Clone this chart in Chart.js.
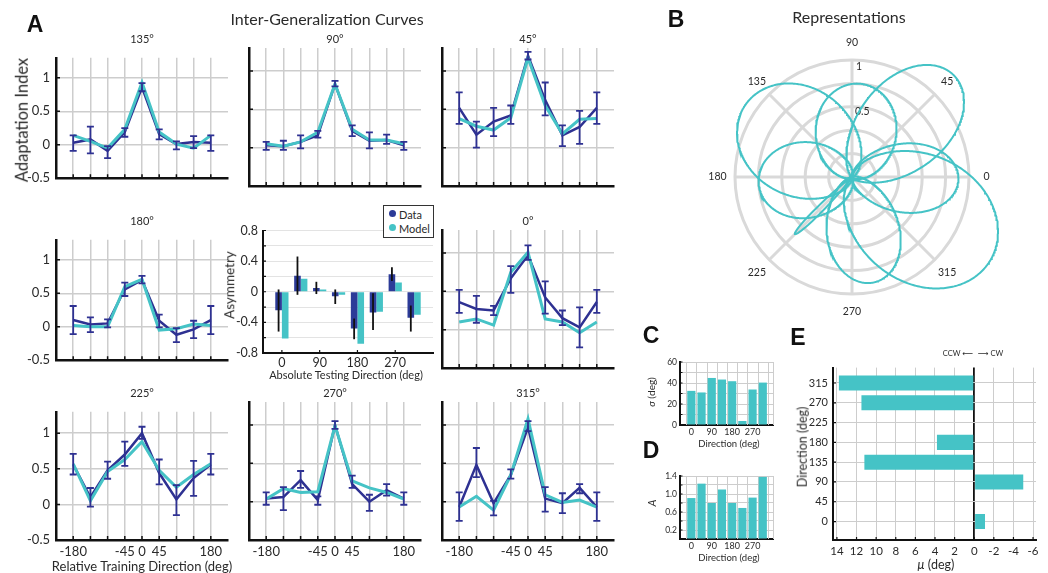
<!DOCTYPE html>
<html><head><meta charset="utf-8">
<script src="https://cdn.jsdelivr.net/npm/chart.js@4.4.1/dist/chart.umd.min.js"></script>
<style>
html,body{margin:0;padding:0;background:#fff}
body{width:1048px;height:573px;position:relative;overflow:hidden;font-family:Lato,'Open Sans',sans-serif;color:#2a2a2a}
.t{position:absolute;white-space:nowrap;line-height:1;pointer-events:none}
.L{font-family:'Liberation Sans',Arial,sans-serif;font-weight:bold;color:#111}
</style></head><body>
<script>
// ---------- DATA ----------
const relDirs = [-180,-135,-90,-45,0,45,90,135,180];
const xShown = [-180,-45,0,45,180];
const yTicksLine = [-0.5,0,0.5,1];

const d135 = [0.03,0.08,-0.09,0.19,0.86,0.16,0.01,0.04,0.03];
const lo135 = [-0.09,-0.13,-0.20,0.12,0.80,0.08,-0.07,-0.05,-0.09];
const hi135 = [0.14,0.27,-0.02,0.25,0.92,0.23,0.05,0.13,0.14];
const m135 = [0.14,0.05,-0.05,0.23,0.93,0.19,0.01,-0.05,0.14];

const d90 = [0.03,0.02,0.075,0.16,0.83,0.22,0.09,0.10,0.03];
const lo90 = [-0.03,-0.03,-0.01,0.13,0.80,0.15,-0.01,0.05,-0.03];
const hi90 = [0.075,0.09,0.16,0.22,0.87,0.29,0.20,0.17,0.075];
const m90 = [0.05,0.02,0.075,0.20,0.83,0.24,0.10,0.10,0.05];

const d45 = [0.52,0.17,0.34,0.42,1.20,0.62,0.16,0.27,0.52];
const lo45 = [0.31,0.00,0.15,0.31,1.15,0.42,0.02,0.05,0.31];
const hi45 = [0.72,0.34,0.52,0.55,1.25,0.85,0.29,0.48,0.72];
const m45 = [0.38,0.28,0.23,0.39,1.17,0.55,0.18,0.37,0.38];

const d180 = [0.10,0.035,0.05,0.56,0.70,0.09,-0.12,-0.04,0.10];
const lo180 = [-0.11,-0.08,-0.01,0.46,0.65,-0.01,-0.23,-0.17,-0.11];
const hi180 = [0.31,0.14,0.11,0.66,0.76,0.18,-0.02,0.09,0.31];
const m180 = [0.02,0.0,0.0,0.60,0.71,-0.05,-0.03,0.04,0.02];

const d0 = [0.36,0.27,0.25,0.67,0.97,0.42,0.15,0.03,0.36];
const lo0 = [0.22,0.09,0.19,0.48,0.91,0.21,0.06,-0.23,0.22];
const hi0 = [0.52,0.44,0.31,0.83,1.10,0.63,0.25,0.29,0.52];
const m0 = [0.10,0.14,0.06,0.75,1.01,0.14,0.10,-0.04,0.10];

const d225 = [0.56,0.10,0.48,0.70,1.00,0.44,0.07,0.37,0.56];
const lo225 = [0.42,-0.03,0.36,0.54,0.92,0.28,-0.15,0.12,0.42];
const hi225 = [0.71,0.23,0.60,0.88,1.09,0.63,0.27,0.61,0.71];
const m225 = [0.57,0.05,0.46,0.63,0.88,0.48,0.24,0.42,0.57];

const d270 = [0.04,0.06,0.28,0.02,1.00,0.23,0.00,0.15,0.04];
const lo270 = [-0.04,-0.11,0.18,-0.04,0.95,0.18,-0.12,0.08,-0.04];
const hi270 = [0.12,0.19,0.40,0.07,1.05,0.34,0.09,0.23,0.12];
const m270 = [0.035,0.17,0.12,0.13,0.99,0.27,0.18,0.12,0.035];

const d315 = [-0.07,0.48,-0.02,0.35,0.97,0.04,-0.02,0.18,-0.07];
const lo315 = [-0.25,0.32,-0.18,0.30,0.92,-0.13,-0.15,0.11,-0.25];
const hi315 = [0.12,0.70,0.01,0.42,1.05,0.19,0.11,0.23,0.12];
const m315 = [-0.07,0.07,-0.11,0.35,1.08,0.09,-0.01,0.02,-0.07];

const absDirs = [0,45,90,135,180,225,270,315];
const absLabels = [0,90,180,270];
const asymData = [-0.24,0.21,0.05,-0.06,-0.48,-0.27,0.23,-0.34];
const asymLo = [-0.52,-0.04,-0.03,-0.16,-0.62,-0.50,0.14,-0.52];
const asymHi = [0.03,0.46,0.13,0.03,-0.35,-0.02,0.32,-0.18];
const asymModel = [-0.61,0.17,0.03,-0.04,-0.68,-0.26,0.12,-0.30];
const asymTicks = [-0.8,-0.6,-0.4,-0.2,0,0.2,0.4,0.6,0.8];

const sigma = [32.5,31,44.8,43.3,41.7,3.8,33.8,40.4];
const amp = [0.91,1.23,0.80,1.10,0.80,0.69,0.92,1.38];
const mu = [-1.1,0,-5.0,11.2,3.8,0,11.5,13.8];

const sigmaTicks = [0,10,20,30,40,50,60];
const sigmaLabelVals = [0,20,40,60];
const sigmaLabels = ['0','20','40','60'];
const ampTicks = [0,0.2,0.4,0.6,0.8,1.0,1.2,1.4];
const ampLabelVals = [0.2,0.6,1.0,1.4];
const ampLabels = ['0.2','0.6','1.0','1.4'];
const muTicks = [14,12,10,8,6,4,2,0,-2,-4,-6];
const barBounds = [-22.5,22.5,67.5,112.5,157.5,202.5,247.5,292.5,337.5,360];
const polarRings = [0.2,0.4,0.6,0.8,1.0];

// ---------- STYLE ----------
const NAVY = '#2e3192', CYAN = '#45c3c6', DBAR = '#2c3b98', GRID = '#cdcdcd', GRID2 = '#d9d9d9';
Chart.defaults.font.family = "Lato, 'Open Sans', sans-serif";
Chart.defaults.color = '#2a2a2a';
Chart.defaults.animation = false;
Chart.defaults.responsive = false;
Chart.defaults.devicePixelRatio = 1;
Chart.defaults.plugins.legend.display = false;
Chart.defaults.plugins.tooltip.enabled = false;

function mkCanvas(x, y, w, h, p){
  const cv = document.createElement('canvas');
  const W = w + p.l + p.r, H = h + p.t + p.b;
  cv.width = W; cv.height = H;
  cv.style.cssText = `position:absolute;left:${x-p.l}px;top:${y-p.t}px;width:${W}px;height:${H}px`;
  document.body.appendChild(cv);
  return cv.getContext('2d');
}
function label(text, cx, cy, size, rot, cls, css){
  const d = document.createElement('div');
  d.className = 't' + (cls ? ' ' + cls : '');
  d.innerHTML = text;
  d.style.left = cx + 'px'; d.style.top = cy + 'px'; d.style.fontSize = size + 'px';
  d.style.transform = 'translate(-50%,-50%)' + (rot ? ` rotate(${rot}deg)` : '');
  if (css) d.style.cssText += css;
  document.body.appendChild(d);
}

const errBars = {
  id: 'errBars',
  afterDatasetsDraw(chart){
    const ctx = chart.ctx, ys = chart.scales.y;
    chart.data.datasets.forEach((ds, di) => {
      if (!ds.errLo) return;
      const meta = chart.getDatasetMeta(di);
      ctx.save(); ctx.strokeStyle = ds.errColor; ctx.lineWidth = ds.errWidth;
      meta.data.forEach((el, i) => {
        const x = el.x, y1 = ys.getPixelForValue(ds.errLo[i]), y2 = ys.getPixelForValue(ds.errHi[i]);
        const c = ds.errCap || 0;
        ctx.beginPath(); ctx.moveTo(x, y1); ctx.lineTo(x, y2);
        if (c) { ctx.moveTo(x-c, y1); ctx.lineTo(x+c, y1); ctx.moveTo(x-c, y2); ctx.lineTo(x+c, y2); }
        ctx.stroke();
      });
      ctx.restore();
    });
  }
};
const inTicks = {
  id: 'inTicks',
  afterDraw(chart, args, o){
    const {ctx, chartArea: a, scales: {x, y}} = chart;
    ctx.save(); ctx.strokeStyle = '#111'; ctx.lineWidth = o.w || 1.5;
    ctx.beginPath();
    (o.x || []).forEach(v => { const px = x.getPixelForValue(v); ctx.moveTo(px, a.bottom); ctx.lineTo(px, a.bottom - o.len); });
    (o.y || []).forEach(v => { const py = y.getPixelForValue(v); ctx.moveTo(a.left, py); ctx.lineTo(a.left + o.len, py); });
    ctx.stroke(); ctx.restore();
  }
};
const vGrid = {
  id: 'vGrid',
  beforeDatasetsDraw(chart, args, o){
    const {ctx, chartArea: a, scales: {x}} = chart;
    ctx.save(); ctx.strokeStyle = GRID; ctx.lineWidth = 1;
    ctx.beginPath();
    (o.values || []).forEach(v => { const px = Math.round(x.getPixelForValue(v)) + 0.5; ctx.moveTo(px, a.top); ctx.lineTo(px, a.bottom); });
    ctx.stroke(); ctx.restore();
  }
};
// y tick labels drawn through the y scale (for the small C/D panels)
const yLabels = {
  id: 'yLabels',
  afterDraw(chart, args, o){
    const {ctx, chartArea: a, scales: {y}} = chart;
    ctx.save(); ctx.fillStyle = '#2a2a2a'; ctx.font = `${o.size}px Lato`; ctx.textAlign = 'right'; ctx.textBaseline = 'middle';
    o.values.forEach((v, i) => ctx.fillText(o.labels[i], a.left - 3, y.getPixelForValue(v)));
    ctx.restore();
  }
};

// ---------- LINE PANELS (A) ----------
function linePanel(title, d, lo, hi, m, col, row){
  const X = [56,249,442][col], Y = [48,230,402][row], W = 172, H = 138;
  const showY = col === 0, showX = row === 2;
  const p = {l: showY ? 40 : 6, t: 4, r: 6, b: showX ? 20 : 6};
  const ctx = mkCanvas(X, Y, W, H, p);
  new Chart(ctx, {
    type: 'line',
    data: {datasets: [
      {label: 'Model', data: relDirs.map((v,i) => ({x: v, y: m[i]})), borderColor: CYAN, borderWidth: 3, pointRadius: 0, order: 0},
      {label: 'Data', data: relDirs.map((v,i) => ({x: v, y: d[i]})), borderColor: NAVY, borderWidth: 2.5, pointRadius: 0, order: 1,
       errLo: lo, errHi: hi, errColor: NAVY, errWidth: 1.8, errCap: 3.5}
    ]},
    options: {
      layout: {padding: {left: 0, top: p.t, right: p.r, bottom: 0}},
      scales: {
        x: {type: 'linear', min: -225, max: 225,
            afterBuildTicks: s => { s.ticks = relDirs.map(v => ({value: v})); },
            afterFit: s => { s.height = p.b; },
            grid: {color: GRID, lineWidth: 1.5, drawTicks: false},
            border: {color: '#111', width: 2.5},
            ticks: {display: showX, autoSkip: false, maxRotation: 0, padding: 4, font: {size: 13}, color: '#2a2a2a',
                    callback: v => xShown.includes(v) ? String(v) : ''}},
        y: {type: 'linear', min: -0.5, max: 1.3,
            afterBuildTicks: s => { s.ticks = yTicksLine.map(v => ({value: v})); },
            afterFit: s => { s.width = p.l; },
            grid: {color: c => (c.tick && c.tick.value === -0.5) ? 'rgba(0,0,0,0)' : GRID, lineWidth: 1.5, drawTicks: false},
            border: {color: '#111', width: 2.5},
            ticks: {display: showY, autoSkip: false, padding: 6, font: {size: 13}, color: '#2a2a2a', callback: v => String(v)}}
      },
      plugins: {inTicks: {x: relDirs, y: yTicksLine, len: 4}}
    },
    plugins: [errBars, inTicks]
  });
  label(title, X + W/2, Y - 10, 11);
}
linePanel('135°', d135, lo135, hi135, m135, 0, 0);
linePanel('90°', d90, lo90, hi90, m90, 1, 0);
linePanel('45°', d45, lo45, hi45, m45, 2, 0);
linePanel('180°', d180, lo180, hi180, m180, 0, 1);
linePanel('0°', d0, lo0, hi0, m0, 2, 1);
linePanel('225°', d225, lo225, hi225, m225, 0, 2);
linePanel('270°', d270, lo270, hi270, m270, 1, 2);
linePanel('315°', d315, lo315, hi315, m315, 2, 2);

// ---------- ASYMMETRY BARS ----------
{
  const X = 263, Y = 222, W = 170, H = 131, p = {l: 40, t: 4, r: 4, b: 15};
  const ctx = mkCanvas(X, Y, W, H, p);
  new Chart(ctx, {
    type: 'bar',
    data: {datasets: [
      {label: 'Data', data: absDirs.map((v,i) => ({x: v, y: asymData[i]})), backgroundColor: DBAR,
       categoryPercentage: 0.7, barPercentage: 1, errLo: asymLo, errHi: asymHi, errColor: '#111', errWidth: 1.8},
      {label: 'Model', data: absDirs.map((v,i) => ({x: v, y: asymModel[i]})), backgroundColor: CYAN,
       categoryPercentage: 0.7, barPercentage: 1}
    ]},
    options: {
      layout: {padding: {left: 0, top: p.t, right: p.r, bottom: 0}},
      scales: {
        x: {type: 'linear', min: -45, max: 360, offset: false,
            afterBuildTicks: s => { s.ticks = absLabels.map(v => ({value: v})); },
            afterFit: s => { s.height = p.b; },
            grid: {color: 'rgba(0,0,0,0)', drawTicks: false, offset: false},
            border: {color: '#111', width: 2},
            ticks: {autoSkip: false, maxRotation: 0, padding: 2, font: {size: 12.5}, callback: v => String(v)}},
        y: {type: 'linear', min: -0.8, max: 0.8,
            afterBuildTicks: s => { s.ticks = asymTicks.map(v => ({value: v})); },
            afterFit: s => { s.width = p.l; },
            grid: {color: '#e3e3e3', lineWidth: 1, drawTicks: false},
            border: {color: '#111', width: 2},
            ticks: {autoSkip: false, padding: 5, font: {size: 12.5}, callback: v => (Math.round(v*10) % 4 === 0) ? String(Math.round(v*10)/10) : ''}}
      },
      plugins: {inTicks: {x: absLabels, y: asymTicks, len: 3, w: 1.2}}
    },
    plugins: [errBars, inTicks]
  });
}
label('Asymmetry', 230, 285, 13.5, -90);
label('Absolute Testing Direction (deg)', 346, 374, 11);
{
  const box = document.createElement('div');
  box.style.cssText = 'position:absolute;left:383px;top:205px;width:49px;height:31px;border:1px solid #333;background:#fff;font-size:11px;line-height:1';
  box.innerHTML =
    `<div style="position:absolute;left:5px;top:4px;width:7px;height:7px;border-radius:50%;background:${DBAR}"></div><div style="position:absolute;left:15px;top:3px">Data</div>` +
    `<div style="position:absolute;left:5px;top:18px;width:7px;height:7px;border-radius:50%;background:${CYAN}"></div><div style="position:absolute;left:15px;top:17px">Model</div>`;
  document.body.appendChild(box);
}

// ---------- POLAR (B) ----------
{
  const U = 117, S = 340, R = (S/2)/U;
  const ctx = mkCanvas(852 - S/2, 177 - S/2, S, S, {l: 0, t: 0, r: 0, b: 0});
  const polarGrid = {
    id: 'polarGrid',
    beforeDatasetsDraw(chart){
      const {ctx, scales: {x, y}} = chart;
      const cx = x.getPixelForValue(0), cy = y.getPixelForValue(0), u = x.getPixelForValue(1) - cx;
      ctx.save(); ctx.strokeStyle = GRID2; ctx.lineWidth = 3;
      polarRings.forEach(r => { ctx.beginPath(); ctx.arc(cx, cy, r*u, 0, 2*Math.PI); ctx.stroke(); });
      absDirs.forEach(a => { const t = a*Math.PI/180; ctx.beginPath(); ctx.moveTo(cx, cy); ctx.lineTo(cx + u*Math.cos(t), cy - u*Math.sin(t)); ctx.stroke(); });
      ctx.fillStyle = '#2a2a2a'; ctx.font = "10.5px Lato"; ctx.textAlign = 'center'; ctx.textBaseline = 'middle';
      absDirs.forEach(a => { const t = a*Math.PI/180; ctx.fillText(String(a), cx + 1.15*u*Math.cos(t), cy - 1.15*u*Math.sin(t)); });
      ctx.textAlign = 'left';
      ctx.fillText('1', cx + 4, cy - 0.94*u);
      ctx.fillText('0.5', cx + 3, cy - 0.555*u);
      ctx.restore();
    }
  };
  const lobes = absDirs.map((dir, i) => {
    const pts = [];
    for (let t = 0; t <= 360; t += 0.5) {
      const dd = ((t - (dir + mu[i])) % 360 + 540) % 360 - 180;
      const r = amp[i] * Math.exp(-dd*dd / (2*sigma[i]*sigma[i]));
      pts.push({x: r*Math.cos(t*Math.PI/180), y: r*Math.sin(t*Math.PI/180)});
    }
    return {label: 'dir ' + dir, data: pts, showLine: true, borderColor: CYAN, borderWidth: 2, pointRadius: 0, fill: false};
  });
  new Chart(ctx, {
    type: 'scatter',
    data: {datasets: lobes},
    options: {
      layout: {padding: 0},
      scales: {x: {display: false, min: -R, max: R}, y: {display: false, min: -R, max: R}}
    },
    plugins: [polarGrid]
  });
}

// ---------- C (sigma) & D (A) ----------
function smallBars(Y, vals, ymax, ticks, labelVals, labelTexts){
  const X = 680, W = 93, H = 63, p = {l: 24, t: 5, r: 4, b: 12};
  const ctx = mkCanvas(X, Y, W, H, p);
  new Chart(ctx, {
    type: 'bar',
    data: {datasets: [{data: absDirs.map((v,i) => ({x: v, y: vals[i]})), backgroundColor: CYAN, categoryPercentage: 0.8, barPercentage: 1}]},
    options: {
      layout: {padding: {left: 0, top: p.t, right: p.r, bottom: 0}},
      scales: {
        x: {type: 'linear', min: -50, max: 360, offset: false,
            afterBuildTicks: s => { s.ticks = absLabels.map(v => ({value: v})); },
            afterFit: s => { s.height = p.b; },
            grid: {color: 'rgba(0,0,0,0)', drawTicks: false, offset: false},
            border: {color: '#111', width: 2},
            ticks: {autoSkip: false, maxRotation: 0, padding: 2, font: {size: 9}, callback: v => String(v)}},
        y: {type: 'linear', min: 0, max: ymax,
            afterBuildTicks: s => { s.ticks = ticks.map(v => ({value: v})); },
            afterFit: s => { s.width = p.l; },
            grid: {color: GRID, lineWidth: 1, drawTicks: false},
            border: {color: '#111', width: 2},
            ticks: {display: false}}
      },
      plugins: {inTicks: {y: ticks, len: 2.5, w: 1}, vGrid: {values: barBounds}, yLabels: {values: labelVals, labels: labelTexts, size: 8.5}}
    },
    plugins: [vGrid, inTicks, yLabels]
  });
}
smallBars(362, sigma, 60, sigmaTicks, sigmaLabelVals, sigmaLabels);
smallBars(476, amp, 1.4, ampTicks, ampLabelVals, ampLabels);
label('<i>σ</i> (deg)', 651, 392, 10, -90);
label('Direction (deg)', 729, 444, 9.5);
label('<i>A</i>', 651, 503, 11, -90);
label('Direction (deg)', 729, 558, 9.5);

// ---------- E (mu) ----------
{
  const X = 833, Y = 360, W = 203, H = 180, p = {l: 32, t: 4, r: 8, b: 17};
  const ctx = mkCanvas(X, Y, W, H, p);
  new Chart(ctx, {
    type: 'bar',
    data: {datasets: [{data: absDirs.map((v,i) => ({x: mu[i], y: v})), backgroundColor: CYAN, categoryPercentage: 0.76, barPercentage: 1}]},
    options: {
      indexAxis: 'y',
      layout: {padding: {left: 0, top: p.t, right: p.r, bottom: 0}},
      scales: {
        x: {type: 'linear', min: -6.3, max: 14.4, reverse: true,
            afterBuildTicks: s => { s.ticks = muTicks.map(v => ({value: v})); },
            afterFit: s => { s.height = p.b; },
            grid: {color: c => (c.tick && c.tick.value === 0) ? '#111' : GRID, lineWidth: c => (c.tick && c.tick.value === 0) ? 1.8 : 1, drawTicks: false},
            border: {color: '#111', width: 2},
            ticks: {autoSkip: false, maxRotation: 0, padding: 4, font: {size: 11.5}, callback: v => String(v)}},
        y: {type: 'linear', min: -42, max: 350, offset: false,
            afterBuildTicks: s => { s.ticks = absDirs.map(v => ({value: v})); },
            afterFit: s => { s.width = p.l; },
            grid: {color: GRID, lineWidth: 1, drawTicks: false, offset: false},
            border: {color: '#111', width: 2},
            ticks: {autoSkip: false, padding: 5, font: {size: 11}, callback: v => String(v)}}
      },
      plugins: {inTicks: {x: muTicks, y: absDirs, len: 3, w: 1.2}}
    },
    plugins: [inTicks]
  });
}
label('Direction (deg)', 803, 447, 12.5, -90);
label('<i>μ</i> (deg)', 936, 565, 12.5);
label('CCW <span style="font-family:\'DejaVu Sans\'">⟵&nbsp;&nbsp;⟶</span> CW', 973, 354, 7.5);

// ---------- HEADINGS ----------
label('A', 35, 24, 23, 0, 'L');
label('Inter-Generalization Curves', 327, 19, 16);
label('Adaptation Index', 22, 120, 16.5, -90);
label('Relative Training Direction (deg)', 142, 566, 13);
label('B', 676, 19, 23, 0, 'L');
label('Representations', 849, 17, 16);
label('C', 651, 335, 23, 0, 'L');
label('D', 651, 450, 23, 0, 'L');
label('E', 798, 337, 23, 0, 'L');
</script>
</body></html>
